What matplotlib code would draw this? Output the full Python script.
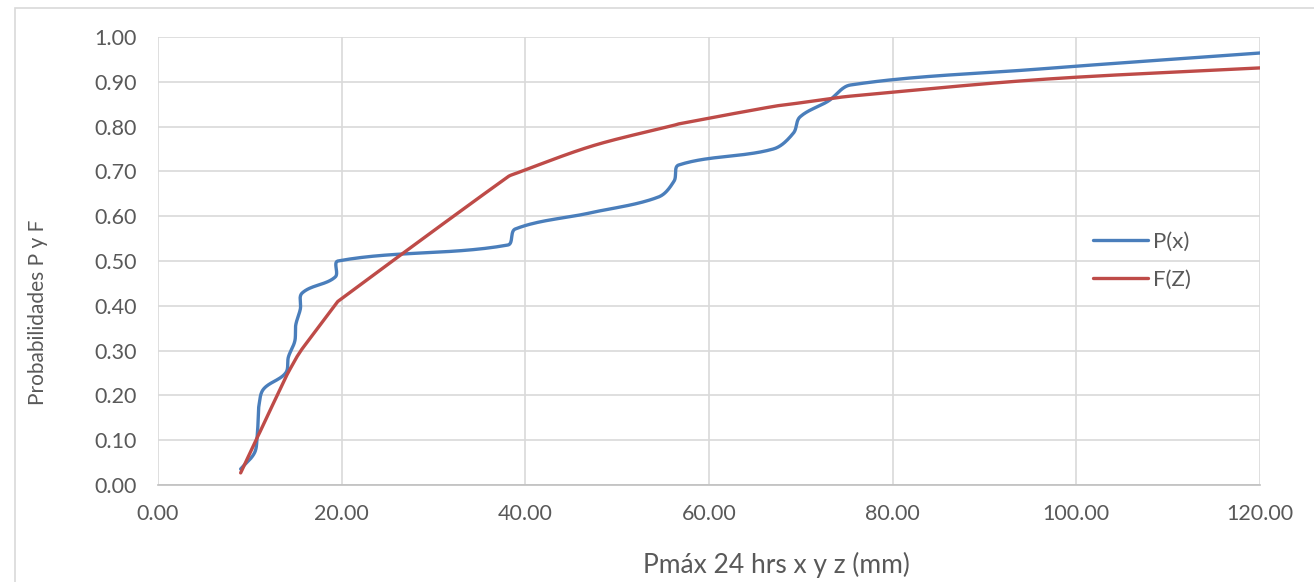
import numpy as np
import matplotlib
matplotlib.use("Agg")
import matplotlib.pyplot as plt
from matplotlib.patches import Rectangle

# ---- datos ----
pmax = [9.0, 10.5, 10.8, 10.9, 11.0, 11.5, 13.9, 14.2, 14.9, 15.0, 15.5, 15.7,
        19.3, 19.6, 38.1, 38.9, 47.0, 54.5, 56.2, 56.7, 67.0, 69.2, 69.9,
        73.0, 75.4, 96.0, 120.0]
p_x = [1/28, 2/28, 3/28, 4/28, 5/28, 6/28, 7/28, 8/28, 9/28, 10/28, 11/28,
       12/28, 13/28, 14/28, 15/28, 16/28, 17/28, 18/28, 19/28, 20/28, 21/28,
       22/28, 23/28, 24/28, 25/28, 26/28, 27/28]
f_z = [0.027, 0.093, 0.106, 0.110, 0.114, 0.136, 0.240, 0.252, 0.278, 0.282,
       0.298, 0.304, 0.402, 0.410, 0.688, 0.695, 0.755, 0.795, 0.803, 0.806,
       0.845, 0.851, 0.853, 0.862, 0.868, 0.905, 0.931]

AZUL = "#4a7ebb"
ROJO = "#be4b48"
GRIS = "#595959"

plt.rcParams["font.family"] = ["Lato", "DejaVu Sans"]

# escala aproximada en pixeles para que la curva no haga lazos
SX = 1102 / 120
SY = 448


def suavizar(x, y, n=30):
    # linea suavizada tipo Excel: Bezier con tangentes segun la cuerda
    x = np.asarray(x, float) * SX
    y = np.asarray(y, float) * SY
    pts = np.column_stack([x, y])
    m = len(pts)
    tang = np.zeros_like(pts)
    for i in range(m):
        a = pts[max(i - 1, 0)]
        b = pts[min(i + 1, m - 1)]
        d = b - a
        tang[i] = d / np.hypot(*d)
    t = np.linspace(0, 1, n)[:, None]
    out = []
    for i in range(m - 1):
        p1, p2 = pts[i], pts[i + 1]
        L = np.hypot(*(p2 - p1))
        c1 = p1 + tang[i] * L / 3
        c2 = p2 - tang[i + 1] * L / 3
        b = (1-t)**3*p1 + 3*(1-t)**2*t*c1 + 3*(1-t)*t**2*c2 + t**3*p2
        out.append(b)
    out = np.vstack(out)
    return out[:, 0] / SX, out[:, 1] / SY


fig = plt.figure(figsize=(13.14, 5.82), dpi=100)
ax = fig.add_axes([158/1314, 1 - 485/582, 1102/1314, 448/582])

fig.patches.append(Rectangle((15/1314, -0.1), 1.2, 1 - 8/582 + 0.1,
                             transform=fig.transFigure, fill=False,
                             edgecolor="#d9d9d9", lw=1.2))

sx, sy = suavizar(pmax, p_x)
ax.plot(sx, sy, color=AZUL, lw=2.4, label="P(x)", solid_capstyle="round")
sx, sy = suavizar(pmax, f_z)
ax.plot(sx, sy, color=ROJO, lw=2.4, label="F(Z)", solid_capstyle="round")

ax.set_xlim(0, 120)
ax.set_ylim(0, 1)
ax.set_xticks(np.arange(0, 121, 20))
ax.set_yticks(np.arange(0, 1.01, 0.1))
ax.xaxis.set_major_formatter(plt.FormatStrFormatter("%.2f"))
ax.yaxis.set_major_formatter(plt.FormatStrFormatter("%.2f"))
ax.tick_params(length=0, labelsize=15.5, colors=GRIS)
ax.tick_params(axis="x", pad=14)
ax.tick_params(axis="y", pad=15)
ax.grid(True, color="#d9d9d9", lw=1.2)
ax.set_axisbelow(True)
for s in ["top", "right", "left"]:
    ax.spines[s].set_visible(False)
ax.spines["bottom"].set_color("#bfbfbf")
ax.spines["bottom"].set_linewidth(1.2)

ax.set_xlabel("Pmáx 24 hrs x y z (mm)", fontsize=19, color=GRIS)
ax.xaxis.set_label_coords(0.561, -0.15)
ax.set_ylabel("Probabilidades P y F", fontsize=15, color=GRIS)
ax.yaxis.set_label_coords(-0.100, 0.385)

ax.legend(loc="center left", bbox_to_anchor=(0.83, 0.5), frameon=False,
          fontsize=16, labelcolor=GRIS, handlelength=2.5, handletextpad=0.2,
          labelspacing=0.8)

fig.savefig("out.png", dpi=100)
